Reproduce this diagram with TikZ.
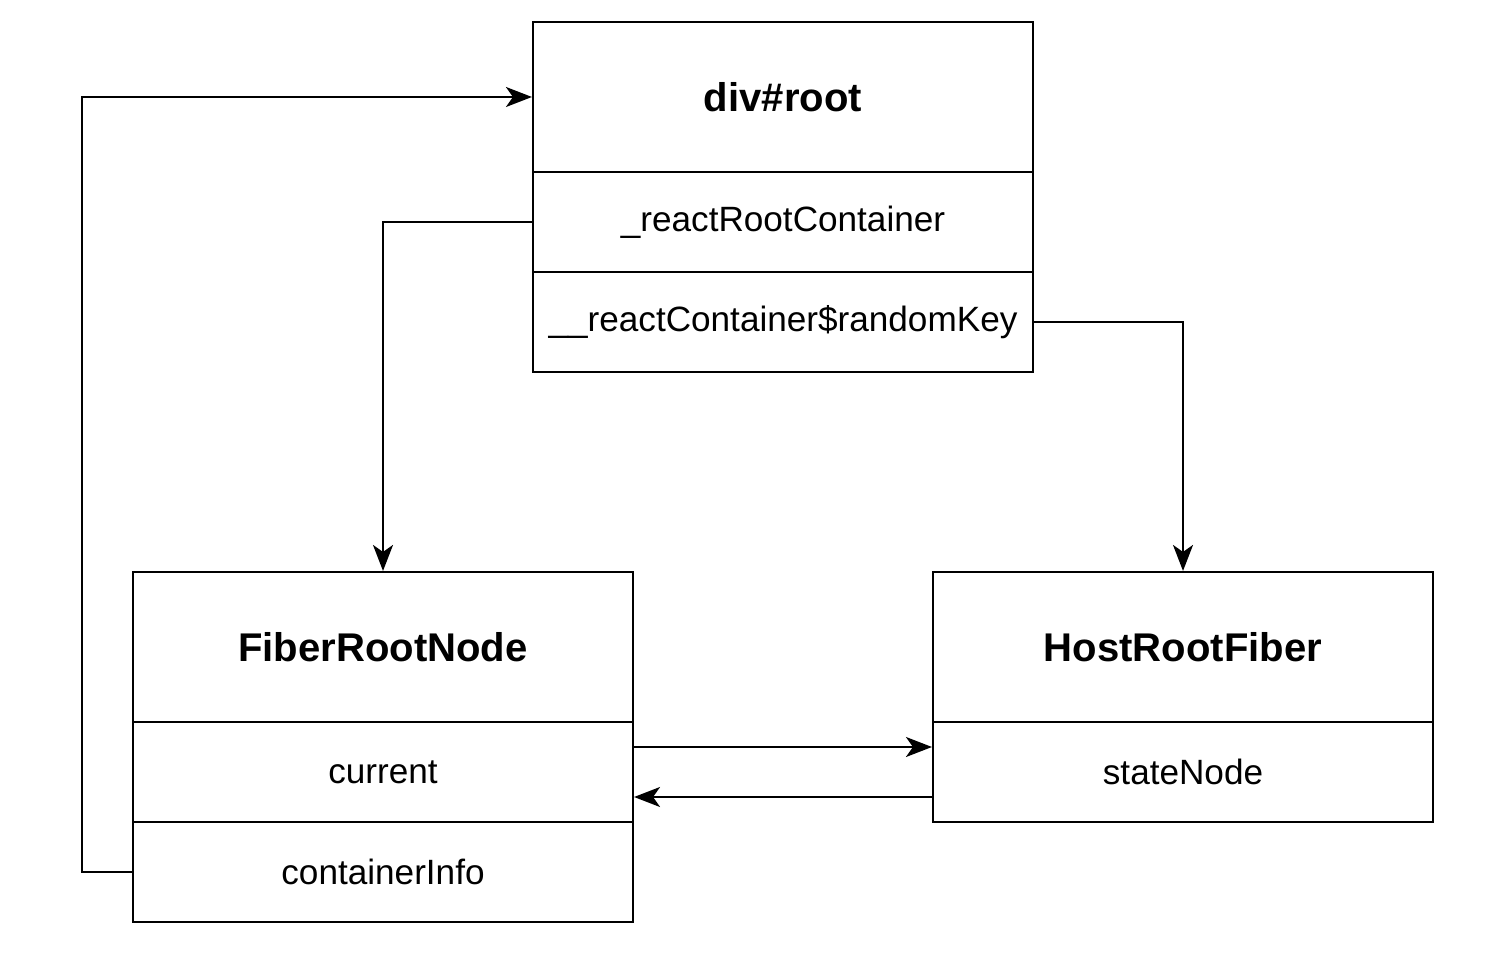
\documentclass[tikz,border=0pt]{standalone}
\usepackage{fontspec}
\setmainfont{Liberation Sans}
\usetikzlibrary{arrows.meta}
\tikzset{
  field/.style={draw, line width=0.6pt, minimum width=5cm, minimum height=1cm, inner sep=0pt, font=\fontsize{10}{12}\selectfont},
  title/.style={field, minimum height=1.5cm, font=\fontsize{11.4}{13}\selectfont\bfseries},
  link/.style={line width=0.6pt, -{Stealth[length=0.26cm, width=0.2cm, inset=0.07cm]}}
}
\begin{document}
\begin{tikzpicture}
    \useasboundingbox (0,0) rectangle (15.1,-9.68);

    % div#root
    \node[title] (divroot) at (7.83,-0.97) {div\#root};
    \node[field] (rrc) at (7.83,-2.22) {\_reactRootContainer};
    \node[field] (rck) at (7.83,-3.22) {\_\_reactContainer\$randomKey};

    % FiberRootNode
    \node[title] (fiber) at (3.83,-6.47) {FiberRootNode};
    \node[field] (current) at (3.83,-7.72) {current};
    \node[field] (info) at (3.83,-8.72) {containerInfo};

    % HostRootFiber
    \node[title] (host) at (11.83,-6.47) {HostRootFiber};
    \node[field] (statenode) at (11.83,-7.72) {stateNode};

    % links
    \draw[link] (info.west) -- ++(-0.5,0) |- (divroot.west);
    \draw[link] (rrc.west) -| (fiber.north);
    \draw[link] (rck.east) -| (host.north);
    \draw[link] ([yshift=0.25cm]current.east) -- ([yshift=0.25cm]statenode.west);
    \draw[link] ([yshift=-0.25cm]statenode.west) -- ([yshift=-0.25cm]current.east);
\end{tikzpicture}
\end{document}
